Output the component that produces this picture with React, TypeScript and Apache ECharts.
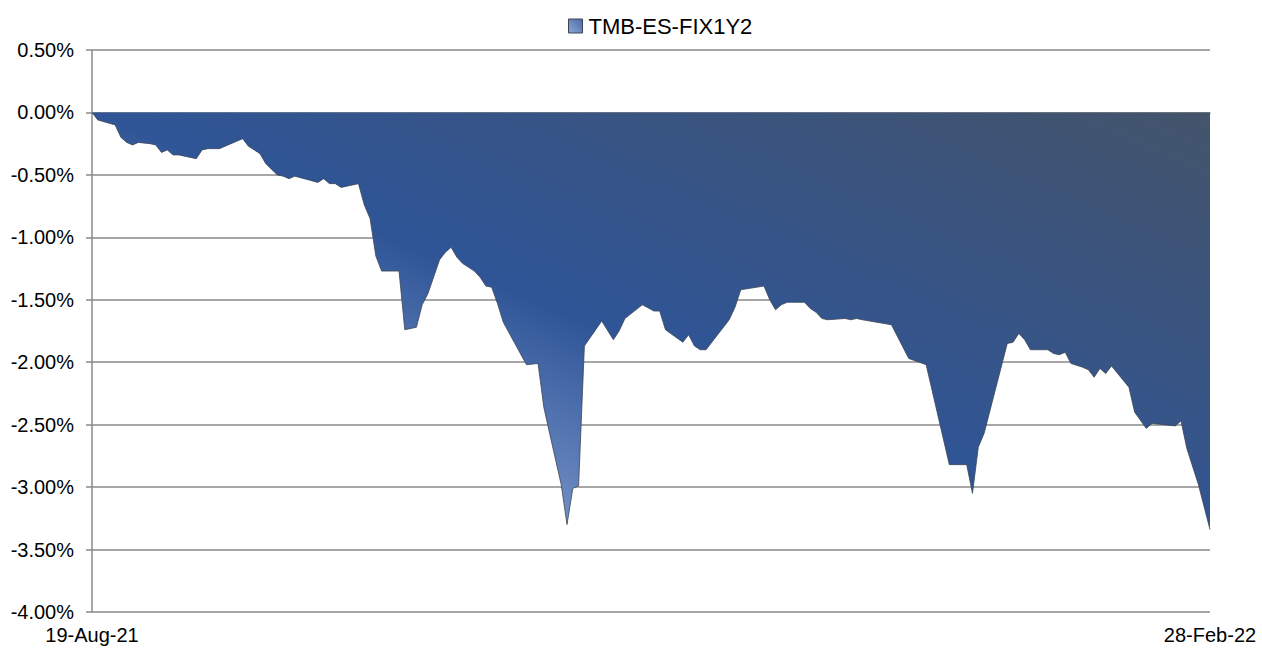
import React, { useEffect, useRef } from "react";
import * as echarts from "echarts";

// Days since 19-Aug-21 (calendar days) at each vertex of the curve
const dayIndex = [
  0, 1, 4, 5, 6, 7, 8, 10, 11, 12, 13, 14, 15, 18, 19, 20, 22, 24, 26, 27,
  29, 30, 32, 33, 34, 35, 39, 40, 41, 42, 43, 46, 47, 48, 49, 50, 53, 54, 56, 57,
  58, 60, 61, 62, 63, 64, 66, 67, 68, 69, 70, 71, 73, 75, 77, 78, 79, 81, 82, 83,
  84, 85, 88, 90, 91, 92, 95, 97, 98, 99, 102, 103, 104, 105, 106, 110, 111, 112, 116, 117,
  118, 119, 120, 123, 124, 125, 126, 127, 130, 131, 132, 133, 138, 140, 141, 144, 148, 151, 152, 153,
  154, 158, 159, 160, 161, 162, 165, 166, 167, 168, 169, 171, 172, 173, 174, 175, 176, 179, 180, 182,
  183, 187, 188, 189, 191, 193,
];

// Drawdown (%) for TMB-ES-FIX1Y2
const drawdown = [
  0, -0.06, -0.1, -0.2, -0.24, -0.26, -0.24, -0.25, -0.26, -0.32, -0.3, -0.34, -0.34, -0.37, -0.3, -0.29, -0.29, -0.25, -0.21, -0.27,
  -0.33, -0.41, -0.5, -0.51, -0.53, -0.51, -0.56, -0.53, -0.57, -0.57, -0.6, -0.57, -0.74, -0.85, -1.15, -1.27, -1.27, -1.74, -1.72, -1.54,
  -1.45, -1.18, -1.12, -1.08, -1.16, -1.21, -1.27, -1.32, -1.39, -1.4, -1.53, -1.68, -1.85, -2.02, -2.01, -2.36, -2.57, -2.98, -3.3, -3.01,
  -2.99, -1.87, -1.67, -1.82, -1.75, -1.65, -1.54, -1.59, -1.59, -1.74, -1.84, -1.78, -1.87, -1.9, -1.9, -1.66, -1.56, -1.42, -1.39, -1.5,
  -1.58, -1.54, -1.52, -1.52, -1.57, -1.6, -1.65, -1.66, -1.65, -1.66, -1.65, -1.66, -1.7, -1.88, -1.97, -2.02, -2.82, -2.82, -3.05, -2.68,
  -2.57, -1.85, -1.84, -1.77, -1.82, -1.9, -1.9, -1.93, -1.94, -1.92, -2.01, -2.04, -2.06, -2.12, -2.05, -2.09, -2.03, -2.2, -2.4, -2.53,
  -2.49, -2.51, -2.47, -2.69, -2.98, -3.34,
];

const seriesName = "TMB-ES-FIX1Y2";
const dateLabels = ["19-Aug-21", "28-Feb-22"];
const lastDay = 193;

const FONT = "'Liberation Sans', Arial, sans-serif";

export default function App() {
  const ref = useRef<HTMLDivElement>(null);

  useEffect(() => {
    if (!ref.current) return;
    const chart = echarts.init(ref.current, null, { renderer: "svg" });
    const points = dayIndex.map((d, i) => [d, drawdown[i]]);

    const areaGradient = new echarts.graphic.LinearGradient(
      21,
      299,
      278,
      -298,
      [
        { offset: 0, color: "#7591c8" },
        { offset: 0.31, color: "#2f5597" },
        { offset: 1, color: "#44546a" },
      ],
      true
    );

    chart.setOption({
      animation: false,
      backgroundColor: "#ffffff",
      textStyle: { fontFamily: FONT },
      legend: {
        left: 563,
        top: 10,
        icon: "rect",
        itemWidth: 14,
        itemHeight: 14,
        textStyle: { fontSize: 22, color: "#000", fontFamily: FONT, padding: [0, 0, 0, 1] },
        data: [
          {
            name: seriesName,
            itemStyle: {
              color: new echarts.graphic.LinearGradient(0, 1, 1, 0, [
                { offset: 0, color: "#8ea5d3" },
                { offset: 1, color: "#4b6aa8" },
              ]),
              borderColor: "#3c4556",
              borderWidth: 1,
            },
          },
        ],
      },
      grid: { left: 92, right: 52, top: 50, bottom: 38, containLabel: false },
      xAxis: {
        type: "value",
        min: 0,
        max: lastDay,
        interval: lastDay,
        axisLine: { show: true, lineStyle: { color: "#8a8a8a", width: 1.5 } },
        axisTick: { show: false },
        splitLine: { show: false },
        axisLabel: {
          margin: 13,
          fontSize: 20,
          color: "#000",
          fontFamily: FONT,
          formatter: (v: number) => (v === 0 ? dateLabels[0] : v === lastDay ? dateLabels[1] : ""),
        },
      },
      yAxis: {
        type: "value",
        min: -4,
        max: 0.5,
        interval: 0.5,
        axisLine: { show: true, lineStyle: { color: "#8a8a8a", width: 1.5 } },
        axisTick: { show: true, length: 6, lineStyle: { color: "#8a8a8a", width: 1.5 } },
        splitLine: { show: true, lineStyle: { color: "#8a8a8a", width: 1.5 } },
        axisLabel: {
          margin: 18,
          fontSize: 20,
          color: "#000",
          fontFamily: FONT,
          formatter: (v: number) => v.toFixed(2) + "%",
        },
      },
      series: [
        {
          name: seriesName,
          type: "line",
          data: points,
          showSymbol: false,
          symbol: "none",
          z: 1,
          lineStyle: { color: "#3c4556", width: 0.8 },
          itemStyle: { color: "#2f5597" },
          areaStyle: { color: areaGradient, opacity: 1, origin: 0 },
        },
      ],
    });
    return () => chart.dispose();
  }, []);

  return (
    <div
      ref={ref}
      style={{ position: "fixed", left: 0, top: 0, width: 1262, height: 650, background: "#fff" }}
    />
  );
}
